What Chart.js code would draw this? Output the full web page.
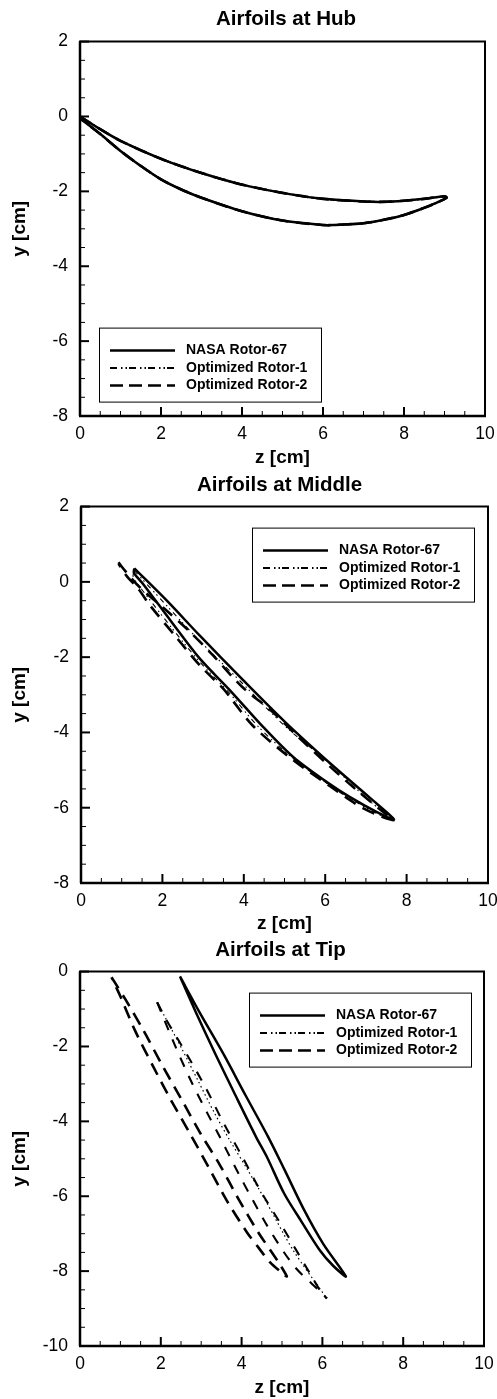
<!DOCTYPE html>
<html>
<head>
<meta charset="utf-8">
<title>Airfoils</title>
<script src="https://cdn.jsdelivr.net/npm/chart.js@4/dist/chart.umd.min.js"></script>
<style>
    html, body { margin: 0; padding: 0; background: #fff; }
    body { position: relative; width: 497px; height: 1399px; overflow: hidden; }
    canvas { position: absolute; left: 0; }
</style>
</head>
<body>
<canvas id="hubChart" style="top:0"></canvas>
<canvas id="middleChart" style="top:470px"></canvas>
<canvas id="tipChart" style="top:930px"></canvas>
<script>
// Nombres de las series y ticks
const seriesNames = ["NASA Rotor-67", "Optimized Rotor-1", "Optimized Rotor-2"];
const zTicks = [0, 2, 4, 6, 8, 10];
const hubYTicks = [-8, -6, -4, -2, 0, 2];
const middleYTicks = [-8, -6, -4, -2, 0, 2];
const tipYTicks = [-10, -8, -6, -4, -2, 0];

// Hub: los tres perfiles coinciden
const hubZ = [0, 0.5, 1, 2, 3, 4, 5, 6, 7, 7.5, 8, 8.5, 9, 9.05, 8.75, 8.5, 8, 7.5, 7, 6.25, 6, 5, 4, 3, 2.5, 2, 1.5, 1, 0.5, 0];
const hubY = [0, -0.34, -0.65, -1.13, -1.51, -1.82, -2.04, -2.2, -2.27, -2.28, -2.25, -2.2, -2.13, -2.17, -2.33, -2.44, -2.63, -2.76, -2.85, -2.9, -2.9, -2.78, -2.53, -2.17, -1.95, -1.68, -1.32, -0.92, -0.47, -0.05];

// Middle
const midNasaZ = [1.31, 2.11, 2.92, 3.99, 5.01, 6.12, 7.1, 7.69, 7.26, 6.61, 6.04, 5.22, 4.48, 3.66, 2.92, 2.23, 1.53, 1.3, 1.31];
const midNasaY = [0.36, -0.5, -1.43, -2.62, -3.72, -4.82, -5.74, -6.31, -6.11, -5.72, -5.32, -4.66, -3.86, -2.88, -2.04, -1.07, -0.06, 0.24, 0.36];
const midOpt1Z = [1.31, 2.08, 2.9, 3.97, 5, 6.08, 7.1, 7.69, 7.3, 6.55, 6.08, 5.22, 4.35, 3.66, 2.92, 2.25, 1.6, 1.28, 1.31];
const midOpt1Y = [0.3, -0.6, -1.55, -2.7, -3.82, -4.8, -5.83, -6.33, -6.17, -5.72, -5.38, -4.7, -3.84, -2.97, -2.13, -1.25, -0.35, 0.13, 0.3];
const midOpt2Z = [0.92, 1.08, 1.45, 2.06, 2.64, 3.25, 3.95, 4.69, 5.34, 6.04, 6.77, 7.47, 7.69, 7.35, 6.94, 6.53, 6.12, 5.22, 4.23, 3.66, 3.5, 2.92, 2.31, 1.7, 1.41, 1.12, 0.92];
const midOpt2Y = [0.52, 0.3, -0.15, -0.72, -1.29, -1.96, -2.78, -3.44, -4.12, -4.83, -5.53, -6.15, -6.33, -6.22, -6.02, -5.74, -5.43, -4.74, -3.83, -3.06, -2.84, -2.22, -1.43, -0.63, -0.19, 0.16, 0.48];

// Tip
const tipNasaZ = [2.475, 2.96, 3.55, 4.1, 4.66, 5.07, 5.53, 6.02, 6.58, 6.26, 5.94, 5.49, 5.05, 4.63, 4.36, 3.85, 3.35, 2.87, 2.475];
const tipNasaY = [-0.13, -1.09, -2.2, -3.31, -4.42, -5.31, -6.33, -7.27, -8.14, -7.85, -7.45, -6.69, -5.92, -4.96, -4.42, -3.31, -2.2, -1.09, -0.13];
const tipOpt1DotZ = [1.91, 2.52, 2.92, 3.32, 3.71, 4.13, 4.62, 5.28, 6.11];
const tipOpt1DotY = [-0.82, -2.06, -2.91, -3.76, -4.51, -5.26, -6.17, -7.45, -8.73];
const tipOpt1LowerZ = [1.91, 2.35, 2.76, 3.18, 3.42, 3.84, 4.29, 4.78, 5.32, 5.96, 6.11];
const tipOpt1LowerY = [-0.82, -1.97, -2.95, -3.84, -4.33, -5.22, -6.13, -7.05, -7.89, -8.56, -8.73];
const tipOpt1UpperZ = [1.91, 2.15, 2.66, 3.12, 3.56, 4, 4.46, 4.99, 5.69, 5.94, 6.11];
const tipOpt1UpperY = [-0.82, -1.31, -2.24, -3.12, -4.06, -4.91, -5.84, -6.78, -8.06, -8.51, -8.73];
const tipOpt2Z = [0.78, 1.14, 1.57, 2.04, 2.5, 2.97, 3.47, 3.92, 4.41, 4.91, 5.12, 5.07, 4.7, 4.41, 4.13, 3.63, 3.18, 2.72, 2.23, 1.8, 1.36, 0.99, 0.78];
const tipOpt2Y = [-0.15, -0.77, -1.57, -2.51, -3.39, -4.3, -5.18, -6.07, -6.96, -7.76, -8.14, -8.11, -7.76, -7.36, -6.96, -6.11, -5.22, -4.32, -3.39, -2.51, -1.57, -0.64, -0.15];

// Estilos de linea
const solidLine = { borderWidth: 2.5, borderDash: [] };
const dashDotLine = { borderWidth: 2, borderDash: [7, 4, 1.5, 3, 1.5, 2] };
const thinDashDotLine = { borderWidth: 1.1, borderDash: [5, 4, 1.5, 3, 1.5, 4] };
const dottedLine = { borderWidth: 1.2, borderDash: [1.5, 3] };
const shortDashLine = { borderWidth: 2.1, borderDash: [10, 10] };
const dashLine = { borderWidth: 2.6, borderDash: [13, 8] };
const legendStyles = [solidLine, dashDotLine, { borderWidth: 2.5, borderDash: [13, 6] }];
const FONT = "'Liberation Sans', Arial, sans-serif";

function curve(label, zs, ys, style) {
    return {
        label: label,
        data: zs.map((z, i) => ({ x: z, y: ys[i] })),
        showLine: true,
        pointRadius: 0,
        tension: 0.3,
        borderColor: "#000",
        borderWidth: style.borderWidth,
        borderDash: style.borderDash,
    };
}

// Marco y ticks hacia dentro, mayores y menores
const frameTicks = {
    id: "frameTicks",
    afterLayout(chart, args, opts) {
        chart.titleBlock.left += opts.titleShift;
        chart.titleBlock.right += opts.titleShift;
    },
    afterDatasetsDraw(chart) {
        const { ctx, chartArea: a, scales: { x, y } } = chart;
        ctx.save();
        ctx.strokeStyle = "#000";
        const tick = (x1, y1, x2, y2, w) => {
            ctx.lineWidth = w;
            ctx.beginPath();
            ctx.moveTo(x1, y1);
            ctx.lineTo(x2, y2);
            ctx.stroke();
        };
        for (let v = x.min; v <= x.max; v += 0.5) {
            const px = x.getPixelForValue(v);
            const major = v % 2 === 0;
            tick(px, a.bottom, px, a.bottom - (major ? 9 : 5), major ? 2 : 1);
        }
        for (let v = y.min; v <= y.max; v += 0.5) {
            const py = y.getPixelForValue(v);
            const major = v % 2 === 0;
            tick(a.left, py, a.left + (major ? 9 : 5), py, major ? 2 : 1);
        }
        tick(a.left - 1, a.top, a.right + 1, a.top, 2);
        tick(a.right, a.top, a.right, a.bottom, 2);
        tick(a.left, a.top, a.left, a.bottom, 2.5);
        tick(a.left - 1, a.bottom, a.right + 1, a.bottom, 2.5);
        ctx.restore();
    }
};

// Leyenda dentro del area del grafico
const boxLegend = {
    id: "boxLegend",
    afterDatasetsDraw(chart, args, opts) {
        const { ctx, chartArea: a } = chart;
        const left = a.left + opts.x;
        const top = a.top + opts.y;
        const rows = [23, 40.5, 58];
        ctx.save();
        ctx.fillStyle = "#fff";
        ctx.fillRect(left, top, 222, 74);
        ctx.strokeStyle = "#000";
        ctx.lineWidth = 1;
        ctx.strokeRect(left + 0.5, top + 0.5, 222, 74);
        seriesNames.forEach((name, i) => {
            const rowY = top + rows[i];
            ctx.lineWidth = legendStyles[i].borderWidth;
            ctx.setLineDash(legendStyles[i].borderDash);
            ctx.beginPath();
            ctx.moveTo(left + 11, rowY);
            ctx.lineTo(left + 76, rowY);
            ctx.stroke();
            ctx.setLineDash([]);
            ctx.fillStyle = "#000";
            ctx.font = "bold 14px " + FONT;
            ctx.textBaseline = "middle";
            ctx.fillText(name, left + 87, rowY);
        });
        ctx.restore();
    }
};

function crearGrafico(id, conf) {
    const canvas = document.getElementById(id);
    canvas.width = 497;
    canvas.height = conf.height;
    canvas.style.width = "497px";
    canvas.style.height = conf.height + "px";
    return new Chart(canvas.getContext("2d"), {
        type: "scatter",
        data: { datasets: conf.datasets },
        options: {
            responsive: false,
            animation: false,
            layout: { padding: { left: 0, right: conf.right, top: 0, bottom: 0 } },
            plugins: {
                legend: { display: false },
                tooltip: { enabled: false },
                title: {
                    display: true,
                    text: conf.title,
                    color: "#000",
                    fullSize: false,
                    font: { family: FONT, size: 20.5, weight: "bold", lineHeight: 1.2 },
                    padding: conf.titlePadding,
                },
                frameTicks: { titleShift: conf.titleShift },
                boxLegend: { x: conf.legendX, y: conf.legendY },
            },
            scales: {
                x: {
                    type: "linear",
                    min: 0,
                    max: 10,
                    afterBuildTicks: (s) => { s.ticks = zTicks.map(v => ({ value: v })); },
                    afterFit: (s) => {
                        s.height = conf.xHeight;
                        s.paddingLeft = 0;
                        s.paddingRight = 0;
                    },
                    grid: { display: false, drawTicks: false },
                    border: { display: false },
                    ticks: {
                        color: "#000",
                        maxRotation: 0,
                        autoSkip: false,
                        padding: 8,
                        font: { family: FONT, size: 17.5 },
                        callback: (v) => String(v),
                    },
                    title: {
                        display: true,
                        text: "z [cm]",
                        color: "#000",
                        font: { family: FONT, size: 19, weight: "bold", lineHeight: 1.2 },
                        padding: { top: 0, bottom: conf.xTitleBottom },
                    },
                },
                y: {
                    type: "linear",
                    min: conf.yTicks[0],
                    max: conf.yTicks[conf.yTicks.length - 1],
                    afterBuildTicks: (s) => { s.ticks = conf.yTicks.map(v => ({ value: v })); },
                    afterFit: (s) => {
                        s.width = conf.yWidth;
                        s.paddingTop = 0;
                        s.paddingBottom = 0;
                    },
                    grid: { display: false, drawTicks: false },
                    border: { display: false },
                    ticks: {
                        color: "#000",
                        autoSkip: false,
                        padding: 12,
                        font: { family: FONT, size: 17.5 },
                        callback: (v) => String(v),
                    },
                    title: {
                        display: true,
                        text: "y [cm]",
                        color: "#000",
                        font: { family: FONT, size: 19, weight: "bold", lineHeight: 1.2 },
                        padding: { top: 8, bottom: 0 },
                    },
                },
            },
        },
        plugins: [frameTicks, boxLegend],
    });
}

crearGrafico("hubChart", {
    height: 470, right: 12, yWidth: 80, xHeight: 54, xTitleBottom: 1,
    title: "Airfoils at Hub", titlePadding: { top: 7, bottom: 10 }, titleShift: 3.5,
    yTicks: hubYTicks, legendX: 19, legendY: 286,
    datasets: [
        curve(seriesNames[0], hubZ, hubY, solidLine),
        curve(seriesNames[1], hubZ, hubY, dashDotLine),
        curve(seriesNames[2], hubZ, hubY, dashLine),
    ],
});

crearGrafico("middleChart", {
    height: 470, right: 9, yWidth: 81, xHeight: 57, xTitleBottom: 5,
    title: "Airfoils at Middle", titlePadding: { top: 3, bottom: 9 }, titleShift: -5,
    yTicks: middleYTicks, legendX: 171, legendY: 21,
    datasets: [
        curve(seriesNames[0], midNasaZ, midNasaY, solidLine),
        curve(seriesNames[1], midOpt1Z, midOpt1Y, thinDashDotLine),
        curve(seriesNames[2], midOpt2Z, midOpt2Y, dashLine),
    ],
});

crearGrafico("tipChart", {
    height: 469, right: 13, yWidth: 80, xHeight: 53, xTitleBottom: 0,
    title: "Airfoils at Tip", titlePadding: { top: 8, bottom: 9 }, titleShift: -1.5,
    yTicks: tipYTicks, legendX: 169, legendY: 21,
    datasets: [
        curve(seriesNames[0], tipNasaZ, tipNasaY, solidLine),
        curve(seriesNames[1], tipOpt1DotZ, tipOpt1DotY, dottedLine),
        curve(seriesNames[1], tipOpt1LowerZ, tipOpt1LowerY, shortDashLine),
        curve(seriesNames[1], tipOpt1UpperZ, tipOpt1UpperY, shortDashLine),
        curve(seriesNames[2], tipOpt2Z, tipOpt2Y, dashLine),
    ],
});
</script>
</body>
</html>
